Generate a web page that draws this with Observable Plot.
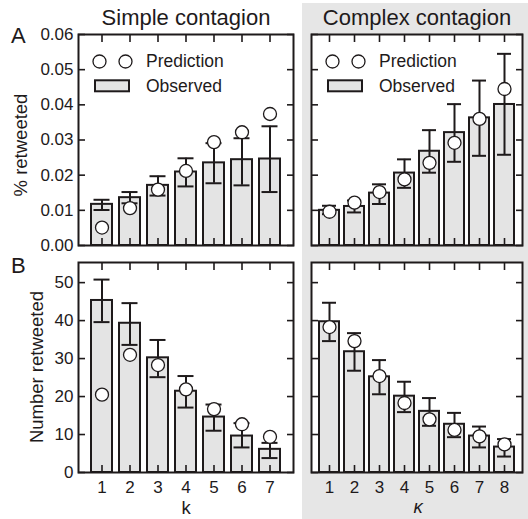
<!DOCTYPE html>
<html>
<head>
<meta charset="utf-8">
<script src="https://cdn.jsdelivr.net/npm/d3@7"></script>
<script src="https://cdn.jsdelivr.net/npm/@observablehq/plot@0.6"></script>
<style>
  html, body { margin: 0; padding: 0; background: white; }
  #wrap { position: relative; width: 528px; height: 519px; overflow: hidden; font-family: "Liberation Sans", Arial, sans-serif; }
  #bg { position: absolute; left: 302px; top: 3px; width: 226px; height: 516px; background: #e6e6e6; }
  .panel { position: absolute; }
  #overlay { position: absolute; left: 0; top: 0; pointer-events: none; }
</style>
</head>
<body>
<div id="wrap">
  <div id="bg"></div>
</div>
<script>
// ---------- data ----------
const simpleK = [1, 2, 3, 4, 5, 6, 7];
const complexK = [1, 2, 3, 4, 5, 6, 7, 8];

// Panel A: % retweeted
const simplePctObs  = [0.0117, 0.0136, 0.0171, 0.0209, 0.0235, 0.0244, 0.0246];
const simplePctLo   = [0.0101, 0.0120, 0.0142, 0.0168, 0.0177, 0.0171, 0.0152];
const simplePctHi   = [0.0130, 0.0152, 0.0197, 0.0248, 0.0291, 0.0305, 0.0339];
const simplePctPred = [0.0051, 0.0106, 0.0159, 0.0212, 0.0294, 0.0322, 0.0374];

const complexPctObs  = [0.0100, 0.0111, 0.0149, 0.0206, 0.0268, 0.0321, 0.0363, 0.0401];
const complexPctLo   = [0.0089, 0.0094, 0.0118, 0.0164, 0.0207, 0.0238, 0.0255, 0.0258];
const complexPctHi   = [0.0113, 0.0128, 0.0174, 0.0245, 0.0328, 0.0402, 0.0469, 0.0545];
const complexPctPred = [0.0096, 0.0122, 0.0152, 0.0188, 0.0235, 0.0292, 0.0360, 0.0445];

// Panel B: number retweeted
const simpleNumObs  = [45.3, 39.3, 30.2, 21.4, 14.6, 9.6, 6.1];
const simpleNumLo   = [39.6, 33.6, 25.1, 17.1, 11.0, 6.6, 3.8];
const simpleNumHi   = [50.8, 44.6, 34.9, 25.4, 17.9, 13.0, 7.8];
const simpleNumPred = [20.5, 31.0, 28.3, 21.9, 16.7, 12.7, 9.4];

const complexNumObs  = [39.7, 31.8, 25.2, 20.1, 16.1, 12.7, 9.6, 6.7];
const complexNumLo   = [34.6, 26.8, 20.6, 15.9, 12.3, 9.3, 6.6, 4.2];
const complexNumHi   = [44.7, 36.7, 29.6, 23.9, 19.6, 15.7, 12.1, 8.8];
const complexNumPred = [38.3, 34.6, 25.4, 18.3, 14.0, 11.2, 9.5, 7.4];

const pctTicks = [0, 0.01, 0.02, 0.03, 0.04, 0.05, 0.06];
const numTicks = [0, 10, 20, 30, 40, 50];

const titles = ["Simple contagion", "Complex contagion"];
const yLabels = ["% retweeted", "Number retweeted"];
const xLabels = ["k", "κ"];
const legendLabels = ["Prediction", "Observed"];
const panelLetters = ["A", "B"];

// ---------- helpers ----------
const INK = "#1e1a1b";
const BAR = "#e4e4e4";

function rows(ks, obs, lo, hi, pred) {
  return ks.map((k, i) => ({k, obs: obs[i], lo: lo[i], hi: hi[i], pred: pred[i]}));
}

function panel({data, ks, yDomain, yTicks, yFormat, showYLabels, showXLabels,
                left, top, width, height, margins, pInner, pOuter, capInset}) {
  const marks = [
    Plot.frame({fill: "white", stroke: null}),
    Plot.barY(data, {x: "k", y: "obs", fill: BAR, stroke: INK, strokeWidth: 2}),
    Plot.ruleX(data, {x: "k", y1: "lo", y2: "hi", stroke: INK, strokeWidth: 2}),
    Plot.tickY(data, {x: "k", y: "hi", stroke: INK, strokeWidth: 2, insetLeft: capInset, insetRight: capInset}),
    Plot.tickY(data, {x: "k", y: "lo", stroke: INK, strokeWidth: 2, insetLeft: capInset, insetRight: capInset}),
    Plot.dot(data, {x: "k", y: "pred", r: 6.5, fill: "white", stroke: INK, strokeWidth: 1.3}),
    // inward ticks
    Plot.axisX({anchor: "top", tickSize: 7, dy: 7, tickFormat: () => "", label: null, stroke: INK, strokeWidth: 1.6}),
    Plot.axisX({anchor: "bottom", tickSize: 7, dy: -7, tickFormat: () => "", label: null, stroke: INK, strokeWidth: 1.6}),
    Plot.axisY({anchor: "left", ticks: yTicks, tickSize: 7, dx: 7, tickFormat: () => "", label: null, stroke: INK, strokeWidth: 1.6}),
    Plot.axisY({anchor: "right", ticks: yTicks, tickSize: 7, dx: -7, tickFormat: () => "", label: null, stroke: INK, strokeWidth: 1.6}),
  ];
  if (showYLabels) {
    marks.push(Plot.axisY({anchor: "left", ticks: yTicks, tickSize: 0, tickPadding: 5, tickFormat: yFormat, label: null, fill: INK}));
  }
  if (showXLabels) {
    marks.push(Plot.axisX({anchor: "bottom", tickSize: 0, tickPadding: 8, label: null, fill: INK}));
  }
  marks.push(Plot.frame({stroke: INK, strokeWidth: 2}));
  const svg = Plot.plot({
    width, height,
    marginLeft: margins[0], marginRight: margins[1], marginTop: margins[2], marginBottom: margins[3],
    x: {type: "band", domain: ks, paddingInner: pInner, paddingOuter: pOuter},
    y: {domain: yDomain},
    style: {background: "transparent", fontSize: "17px", fontFamily: "'Liberation Sans', Arial, sans-serif", color: INK, overflow: "visible"},
    marks
  });
  svg.classList.add("panel");
  svg.style.position = "absolute";
  svg.style.left = left + "px";
  svg.style.top = top + "px";
  document.getElementById("wrap").appendChild(svg);
}

const fmt2 = d3.format(".2f");
const fmt0 = d3.format("d");

// Frames: left x 78–293, right x 311–522; top y 34–245, bottom y 262–472
panel({data: rows(simpleK, simplePctObs, simplePctLo, simplePctHi, simplePctPred), ks: simpleK,
  yDomain: [0, 0.06], yTicks: pctTicks, yFormat: fmt2, showYLabels: true, showXLabels: false,
  left: 0, top: 0, width: 300, height: 260, margins: [78, 7, 34, 15], pInner: 0.24, pOuter: 0.39, capInset: 2.5});
panel({data: rows(complexK, complexPctObs, complexPctLo, complexPctHi, complexPctPred), ks: complexK,
  yDomain: [0, 0.06], yTicks: pctTicks, yFormat: fmt2, showYLabels: false, showXLabels: false,
  left: 300, top: 0, width: 228, height: 260, margins: [11, 6, 34, 15], pInner: 0.22, pOuter: 0.28, capInset: 3});
panel({data: rows(simpleK, simpleNumObs, simpleNumLo, simpleNumHi, simpleNumPred), ks: simpleK,
  yDomain: [0, 55.3], yTicks: numTicks, yFormat: fmt0, showYLabels: true, showXLabels: true,
  left: 0, top: 250, width: 300, height: 269, margins: [78, 7, 12, 47], pInner: 0.24, pOuter: 0.39, capInset: 2.5});
panel({data: rows(complexK, complexNumObs, complexNumLo, complexNumHi, complexNumPred), ks: complexK,
  yDomain: [0, 55.3], yTicks: numTicks, yFormat: fmt0, showYLabels: false, showXLabels: true,
  left: 300, top: 250, width: 228, height: 269, margins: [11, 6, 12, 47], pInner: 0.22, pOuter: 0.28, capInset: 3});

// ---------- overlay text & legends ----------
const svg = d3.select("#wrap").append("svg").attr("id", "overlay")
  .attr("width", 528).attr("height", 519)
  .style("font-family", "'Liberation Sans', Arial, sans-serif").style("fill", INK);

const titleX = [186, 417];
titles.forEach((t, i) => svg.append("text").attr("x", titleX[i]).attr("y", 25)
  .attr("text-anchor", "middle").attr("font-size", 22).attr("fill", INK).text(t));

svg.append("text").attr("x", 11).attr("y", 43).attr("font-size", 22).attr("fill", INK).text(panelLetters[0]);
svg.append("text").attr("x", 11).attr("y", 273).attr("font-size", 22).attr("fill", INK).text(panelLetters[1]);

svg.append("text").attr("transform", "translate(27,145) rotate(-90)").attr("text-anchor", "middle")
  .attr("font-size", 18.5).attr("fill", INK).text(yLabels[0]);
svg.append("text").attr("transform", "translate(43,367) rotate(-90)").attr("text-anchor", "middle")
  .attr("font-size", 18.5).attr("fill", INK).text(yLabels[1]);

svg.append("text").attr("x", 186).attr("y", 514).attr("text-anchor", "middle")
  .attr("font-size", 18.5).attr("fill", INK).text(xLabels[0]);
svg.append("text").attr("x", 418).attr("y", 513).attr("text-anchor", "middle")
  .attr("font-size", 18.5).attr("font-style", "italic").attr("fill", INK).text(xLabels[1]);

[78, 311].forEach(fx => {
  const g = svg.append("g");
  [21.5, 47.5].forEach(dx => g.append("circle").attr("cx", fx + dx).attr("cy", 61.5).attr("r", 6.5)
    .attr("fill", "white").attr("stroke", INK).attr("stroke-width", 1.3));
  g.append("rect").attr("x", fx + 17).attr("y", 80.3).attr("width", 34).attr("height", 11)
    .attr("fill", BAR).attr("stroke", INK).attr("stroke-width", 2);
  g.append("text").attr("x", fx + 68).attr("y", 66.5).attr("font-size", 17.5).attr("fill", INK).text(legendLabels[0]);
  g.append("text").attr("x", fx + 68).attr("y", 92).attr("font-size", 17.5).attr("fill", INK).text(legendLabels[1]);
});
</script>
</body>
</html>
